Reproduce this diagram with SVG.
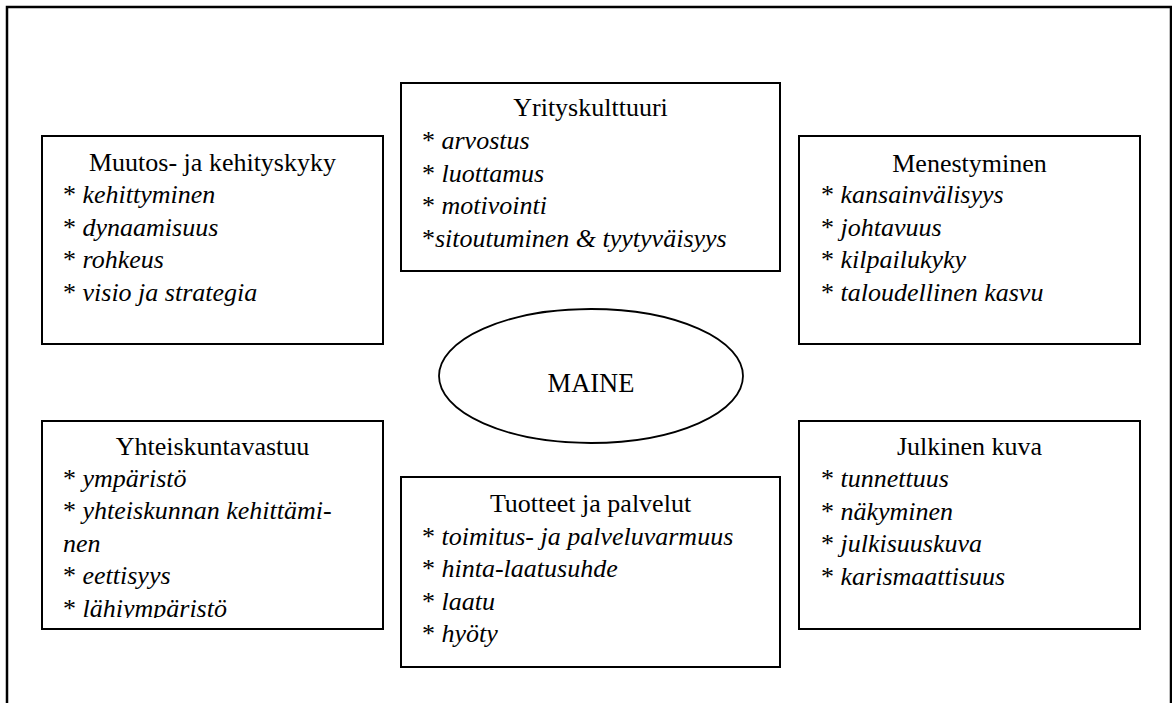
<svg xmlns="http://www.w3.org/2000/svg" width="1172" height="703" viewBox="0 0 1172 703">
<style>
.box{fill:#fff;stroke:#000;stroke-width:2}
.frame{fill:none;stroke:#000;stroke-width:2.5}
</style>
<defs>
<clipPath id="clipY"><rect x="42" y="421" width="341" height="197"/></clipPath>
</defs>
<rect class="frame" x="7" y="7" width="1164" height="710"/>
<g id="connectors"/>
<g font-family="Liberation Serif" font-size="26" fill="#000">
<g id="muutos">
<rect class="box" x="42" y="136" width="341" height="208"/>
<text text-anchor="middle" x="212.5" y="171">Muutos- ja kehityskyky</text>
<text x="63" y="203">* <tspan font-style="italic">kehittyminen</tspan></text>
<text x="63" y="236">* <tspan font-style="italic">dynaamisuus</tspan></text>
<text x="63" y="268">* <tspan font-style="italic">rohkeus</tspan></text>
<text x="63" y="301">* <tspan font-style="italic">visio ja strategia</tspan></text>
</g>
<g id="yrityskulttuuri">
<rect class="box" x="401" y="83" width="379" height="188"/>
<text text-anchor="middle" x="590.5" y="116">Yrityskulttuuri</text>
<text x="422" y="149">* <tspan font-style="italic">arvostus</tspan></text>
<text x="422" y="182">* <tspan font-style="italic">luottamus</tspan></text>
<text x="422" y="214">* <tspan font-style="italic">motivointi</tspan></text>
<text x="422" y="247">*<tspan font-style="italic">sitoutuminen &amp; tyytyväisyys</tspan></text>
</g>
<g id="menestyminen">
<rect class="box" x="799" y="136" width="341" height="208"/>
<text text-anchor="middle" x="969.5" y="172">Menestyminen</text>
<text x="821" y="203">* <tspan font-style="italic">kansainvälisyys</tspan></text>
<text x="821" y="236">* <tspan font-style="italic">johtavuus</tspan></text>
<text x="821" y="268">* <tspan font-style="italic">kilpailukyky</tspan></text>
<text x="821" y="301">* <tspan font-style="italic">taloudellinen kasvu</tspan></text>
</g>
<g id="maine">
<ellipse cx="591" cy="376" rx="152" ry="67" fill="#fff" stroke="#000" stroke-width="1.8"/>
<text text-anchor="middle" x="591" y="392" font-size="26.5">MAINE</text>
</g>
<g id="yhteiskuntavastuu">
<rect class="box" x="42" y="421" width="341" height="208"/>
<text text-anchor="middle" x="212.5" y="455">Yhteiskuntavastuu</text>
<g clip-path="url(#clipY)">
<text x="63" y="487">* <tspan font-style="italic">ympäristö</tspan></text>
<text x="63" y="519">* <tspan font-style="italic">yhteiskunnan kehittämi-</tspan></text>
<text x="63" y="552" font-style="italic">nen</text>
<text x="63" y="584">* <tspan font-style="italic">eettisyys</tspan></text>
<text x="63" y="617">* <tspan font-style="italic">lähiympäristö</tspan></text>
</g>
</g>
<g id="tuotteet">
<rect class="box" x="401" y="477" width="379" height="190"/>
<text text-anchor="middle" x="590.5" y="512">Tuotteet ja palvelut</text>
<text x="422" y="545">* <tspan font-style="italic">toimitus- ja palveluvarmuus</tspan></text>
<text x="422" y="577">* <tspan font-style="italic">hinta-laatusuhde</tspan></text>
<text x="422" y="610">* <tspan font-style="italic">laatu</tspan></text>
<text x="422" y="642">* <tspan font-style="italic">hyöty</tspan></text>
</g>
<g id="julkinen">
<rect class="box" x="799" y="421" width="341" height="208"/>
<text text-anchor="middle" x="969.5" y="455">Julkinen kuva</text>
<text x="821" y="487">* <tspan font-style="italic">tunnettuus</tspan></text>
<text x="821" y="520">* <tspan font-style="italic">näkyminen</tspan></text>
<text x="821" y="552">* <tspan font-style="italic">julkisuuskuva</tspan></text>
<text x="821" y="585">* <tspan font-style="italic">karismaattisuus</tspan></text>
</g>
</g>
</svg>
